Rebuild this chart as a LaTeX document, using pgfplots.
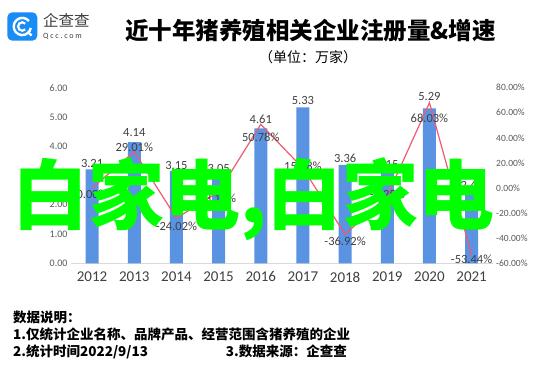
\documentclass[border=0pt]{standalone}
\usepackage{pgfplots}
\pgfplotsset{compat=1.18}
\usepackage{pgfplotstable}
\usepackage{fontspec}
\setmainfont{Carlito}
\newfontfamily\cjk{Noto Sans CJK SC}
\definecolor{barblue}{HTML}{5B93E3}
\definecolor{linered}{HTML}{F05A6E}
\definecolor{wmgreen}{HTML}{00FF00}
\definecolor{ticky}{HTML}{595959}
\definecolor{lab}{HTML}{404040}
\definecolor{logoblue}{HTML}{1A8CF5}
\definecolor{basegray}{HTML}{D9D9D9}

\pgfplotstableread{
year val dy
2012 3.21 6
2013 4.14 10
2014 3.15 6
2015 3.05 6
2016 4.61 9
2017 5.33 7
2018 3.36 7
2019 3.15 7
2020 5.29 12
2021 2.46 6
}\bardata

\pgfplotstableread{
year pct dy
2012 0.00 -6
2013 29.01 4
2014 -24.02 -8
2015 -3.17 -6
2016 50.78 -13
2017 15.78 2
2018 -36.92 -7
2019 -6.25 2
2020 68.03 -15.5
2021 -53.44 -4
}\pctdata

\begin{document}
\begin{tikzpicture}
\fill[white] (0pt,0pt) rectangle (553pt,-369pt);
\path[use as bounding box] (0pt,0pt) rectangle (553pt,-369pt);

% bars, left axis
\begin{axis}[
  at={(71pt,-263.3pt)}, anchor=south west,
  scale only axis, width=421.7pt, height=175.6pt,
  xmin=2011.5, xmax=2021.5, ymin=0, ymax=6,
  ybar, bar width=13pt,
  axis x line*=bottom, axis y line*=left,
  x axis line style={draw=basegray, line width=0.8pt, -},
  y axis line style={draw=none, -},
  major tick length=0pt,
  xtick=data,
  ytick={0,1,2,3,4,5,6},
  /pgf/number format/assume math mode=true,
  xticklabel style={font=\fontsize{15}{18}\selectfont, text=lab, /pgf/number format/1000 sep={}, yshift=-5pt},
  yticklabel={\pgfmathprintnumber[fixed,precision=2,zerofill]{\tick}},
  yticklabel style={font=\fontsize{10}{12}\selectfont, text=ticky},
  clip=false,
]
\addplot[fill=barblue, draw=none,
  visualization depends on={\thisrow{dy}\as\dy},
  nodes near coords={\pgfmathprintnumber[fixed,precision=2,zerofill]{\pgfplotspointmeta}},
  every node near coord/.append style={anchor=center, yshift=\dy pt, font=\fontsize{12.5}{14}\selectfont, text=lab},
] table[x=year,y=val] {\bardata};
\end{axis}

% line, right axis
\begin{axis}[
  at={(71pt,-263.3pt)}, anchor=south west,
  scale only axis, width=421.7pt, height=175.6pt,
  xmin=2011.5, xmax=2021.5, ymin=-60, ymax=80,
  axis x line=none, axis y line*=right,
  y axis line style={draw=none, -},
  major tick length=0pt,
  ytick={-60,-40,-20,0,20,40,60,80},
  /pgf/number format/assume math mode=true,
  yticklabel={\pgfmathprintnumber[fixed,precision=2,zerofill]{\tick}\%},
  yticklabel style={font=\fontsize{9.5}{11}\selectfont, text=ticky},
  clip=false,
]
\addplot[color=linered, line width=1.2pt, mark=none,
  visualization depends on={\thisrow{dy}\as\dy},
  nodes near coords={\pgfmathprintnumber[fixed,precision=2,zerofill]{\pgfplotspointmeta}\%},
  every node near coord/.append style={anchor=center, yshift=\dy pt, font=\fontsize{12.5}{14}\selectfont, text=lab},
] table[x=year,y=pct] {\pctdata};
\end{axis}

% logo
\fill[logoblue, rounded corners=5pt] (7.3pt,-12.3pt) rectangle (37.3pt,-40.7pt);
\draw[white, line width=2.4pt] (22.3pt,-26.5pt) ++(40:8.6pt) arc[start angle=40, end angle=350, radius=8.6pt];
\draw[white, line width=2.4pt] (27.5pt,-31.5pt) -- (31.5pt,-35.5pt);
\draw[white, line width=2.2pt] (22.3pt,-26.5pt) ++(45:4.2pt) arc[start angle=45, end angle=315, radius=4.2pt];
\node[anchor=base west, inner sep=0, text=black!75] at (43pt,-27pt) {\cjk\fontsize{15.5}{17}\selectfont 企查查};
\node[anchor=base west, inner sep=0, text=black!75] at (43pt,-38.5pt) {\addfontfeature{LetterSpace=22}\fontsize{8}{9}\selectfont Qcc.com};

% title
\node[anchor=base, inner sep=0] at (310.5pt,-40pt) {\cjk\bfseries\fontsize{23.5}{26}\selectfont 近十年猪养殖相关企业注册量\&增速};
\node[anchor=base, inner sep=0] at (308pt,-62pt) {\cjk\fontsize{14}{16}\selectfont （单位：万家）};

% footer
\node[anchor=base west, inner sep=0] at (13pt,-322pt) {\cjk\bfseries\fontsize{13.5}{15}\selectfont 数据说明：};
\node[anchor=base west, inner sep=0] at (13pt,-339pt) {\cjk\bfseries\fontsize{13.5}{15}\selectfont 1.仅统计企业名称、品牌产品、经营范围含猪养殖的企业};
\node[anchor=base west, inner sep=0] at (13pt,-356pt) {\cjk\bfseries\fontsize{13.5}{15}\selectfont 2.统计时间2022/9/13};
\node[anchor=base east, inner sep=0] at (347pt,-356pt) {\cjk\bfseries\fontsize{13.5}{15}\selectfont 3.数据来源：企查查};

% watermark overlay
\node[anchor=base, inner sep=0, text=wmgreen] at (253.5pt,-223pt) {\cjk\bfseries\fontsize{76}{80}\selectfont 白家电,白家电};
\end{tikzpicture}
\end{document}
